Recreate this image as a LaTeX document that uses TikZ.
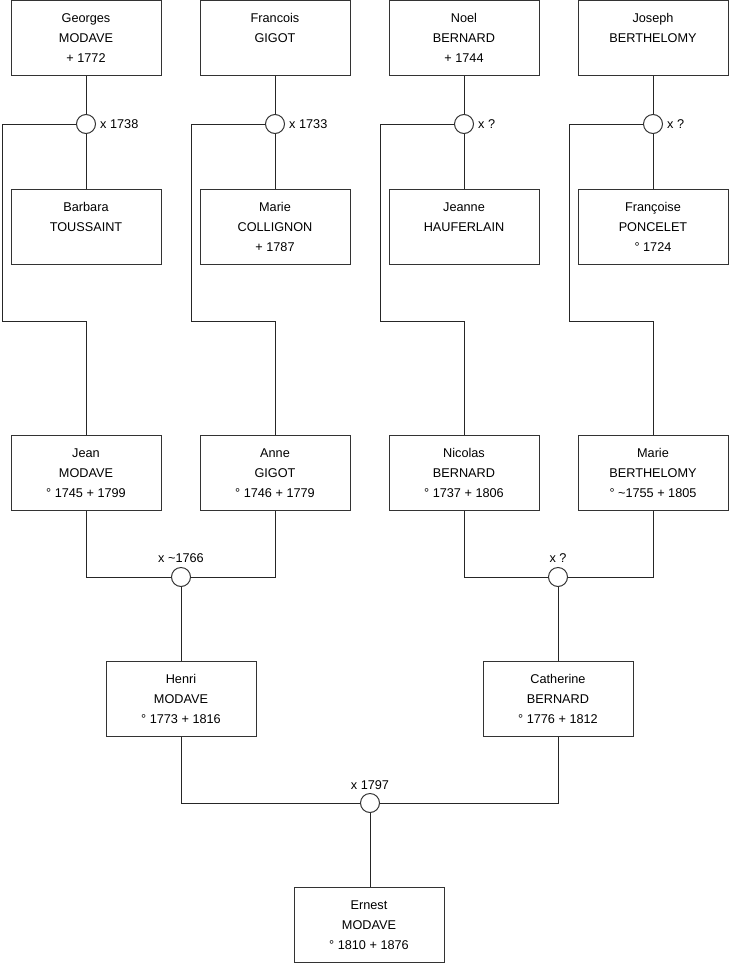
\documentclass[tikz,border=0pt]{standalone}
\usepackage{fontspec}
\setmainfont{Liberation Sans}
\begin{document}
\begin{tikzpicture}[x=1pt,y=-1pt,
  person/.style={draw=black!80, line width=1pt, fill=white, minimum width=150pt, minimum height=75pt, inner sep=0pt, align=center, font=\fontsize{12.7}{20}\selectfont},
  union/.style={circle, draw=black!80, line width=1pt, fill=white, minimum size=19pt, inner sep=0pt},
  lbl/.style={font=\fontsize{12.7}{15}\selectfont, inner sep=0pt},
  link/.style={draw=black!85, line width=1pt}]
\useasboundingbox (0,0) rectangle (740,975);
% top row
\node[person] (georges) at (86,38) {Georges\\MODAVE\\+ 1772};
\node[person] (francois) at (275,38) {Francois\\GIGOT\\\mbox{}};
\node[person] (noel) at (464,38) {Noel\\BERNARD\\+ 1744};
\node[person] (joseph) at (653,38) {Joseph\\BERTHELOMY\\\mbox{}};
% row 2
\node[person] (barbara) at (86,227) {Barbara\\TOUSSAINT\\\mbox{}};
\node[person] (marieC) at (275,227) {Marie\\COLLIGNON\\+ 1787};
\node[person] (jeanne) at (464,227) {Jeanne\\HAUFERLAIN\\\mbox{}};
\node[person] (francoise) at (653,227) {Françoise\\PONCELET\\° 1724};
% row 3
\node[person] (jean) at (86,473) {Jean\\MODAVE\\° 1745 + 1799};
\node[person] (anne) at (275,473) {Anne\\GIGOT\\° 1746 + 1779};
\node[person] (nicolas) at (464,473) {Nicolas\\BERNARD\\° 1737 + 1806};
\node[person] (marieB) at (653,473) {Marie\\BERTHELOMY\\° \textasciitilde1755 + 1805};
% row 4
\node[person] (henri) at (181,699) {Henri\\MODAVE\\° 1773 + 1816};
\node[person] (catherine) at (558,699) {Catherine\\BERNARD\\° 1776 + 1812};
% row 5
\node[person] (ernest) at (369,925) {Ernest\\MODAVE\\° 1810 + 1876};
% unions
\node[union] (u1) at (86,124) {};
\node[union] (u2) at (275,124) {};
\node[union] (u3) at (464,124) {};
\node[union] (u4) at (653,124) {};
\node[union] (u5) at (181,577) {};
\node[union] (u6) at (558,577) {};
\node[union] (u7) at (370,803) {};
% labels
\node[lbl, anchor=west] (l1) at (100,124) {x 1738};
\node[lbl, anchor=west] (l2) at (289,124) {x 1733};
\node[lbl, anchor=west] (l3) at (478,124) {x ?};
\node[lbl, anchor=west] (l4) at (667,124) {x ?};
\node[lbl] (l5) at (181,558) {x \textasciitilde1766};
\node[lbl] (l6) at (558,558) {x ?};
\node[lbl] (l7) at (370,785) {x 1797};
% bend coordinates
\coordinate (k1) at (2,321);
\coordinate (k2) at (191,321);
\coordinate (k3) at (380,321);
\coordinate (k4) at (569,321);
% connectors top
\draw[link] (georges.south) -- (u1.north);
\draw[link] (u1.south) -- (barbara.north);
\draw[link] (u1.west) -| (k1) -| (jean.north);
\draw[link] (francois.south) -- (u2.north);
\draw[link] (u2.south) -- (marieC.north);
\draw[link] (u2.west) -| (k2) -| (anne.north);
\draw[link] (noel.south) -- (u3.north);
\draw[link] (u3.south) -- (jeanne.north);
\draw[link] (u3.west) -| (k3) -| (nicolas.north);
\draw[link] (joseph.south) -- (u4.north);
\draw[link] (u4.south) -- (francoise.north);
\draw[link] (u4.west) -| (k4) -| (marieB.north);
% row 3 unions
\draw[link] (jean.south) |- (u5.west);
\draw[link] (anne.south) |- (u5.east);
\draw[link] (u5.south) -- (henri.north);
\draw[link] (nicolas.south) |- (u6.west);
\draw[link] (marieB.south) |- (u6.east);
\draw[link] (u6.south) -- (catherine.north);
% final
\draw[link] (henri.south) |- (u7.west);
\draw[link] (catherine.south) |- (u7.east);
\draw[link] (u7.south) -- (u7.south |- ernest.north);
\end{tikzpicture}
\end{document}
